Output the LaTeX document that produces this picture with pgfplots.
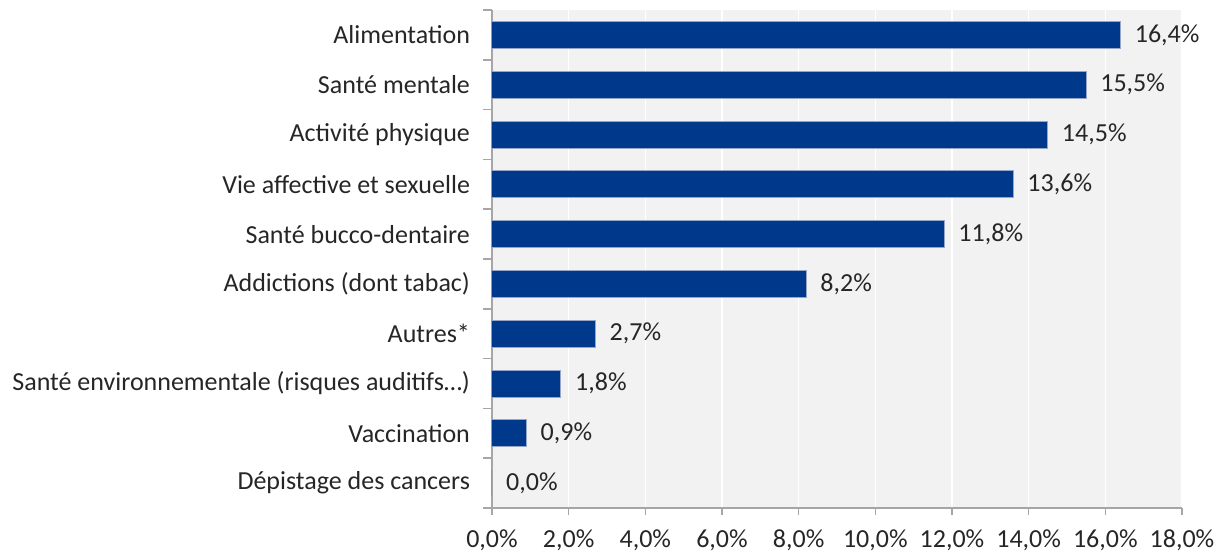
\documentclass[border=0pt]{standalone}
\usepackage{fontspec}
\setmainfont{Carlito}
\usepackage{pgfplots}
\pgfplotsset{compat=1.18}
\definecolor{barblue}{HTML}{00388C}
\definecolor{bgray}{HTML}{F2F2F2}
\definecolor{axgray}{HTML}{A6A6A6}
\definecolor{txt}{HTML}{262626}
\begin{document}
\begin{tikzpicture}[font=\fontsize{13}{15}\selectfont]
\begin{axis}[
  scale only axis, width=345pt, height=249pt,
  at={(0,0)}, anchor=south west,
  xbar, bar width=13.5pt,
  xmin=0, xmax=18, ymin=-0.5, ymax=9.5,
  axis background/.style={fill=bgray},
  axis lines*=left,
  axis line style={axgray, line width=0.8pt},
  xmajorgrids, grid style={white, line width=0.8pt},
  /pgf/number format/assume math mode=true,
  xtick={0,2,...,18},
  xticklabel={\pgfmathprintnumber[fixed,fixed zerofill,precision=1,use comma]{\tick}\%},
  ytick={0,...,9},
  yticklabels={D\'epistage des cancers, Vaccination, Sant\'e environnementale (risques auditifs…), Autres*, Addictions (dont tabac), Sant\'e bucco-dentaire, Vie affective et sexuelle, Activit\'e physique, Sant\'e mentale, Alimentation},
  major y tick style={draw=none},
  minor ytick={-0.5,0.5,...,9.5},
  tick align=outside,
  minor tick length=4.5pt, major tick length=3.5pt,
  tick style={axgray, line width=0.8pt},
  ticklabel style={text=txt},
  y tick label style={xshift=-4pt},
  x tick label style={yshift=-4pt},
  nodes near coords={\pgfmathprintnumber[fixed,fixed zerofill,precision=1,use comma]{\pgfplotspointmeta}\%},
  nodes near coords style={anchor=west, xshift=3.5pt, text=txt},
  point meta=x,
]
\addplot[fill=barblue, draw={rgb,255:red,150;green,165;blue,200}, line width=0.5pt] coordinates {
  (0.0,0) (0.9,1) (1.8,2) (2.7,3) (8.2,4) (11.8,5) (13.6,6) (14.5,7) (15.5,8) (16.4,9)
};
\end{axis}
\pgfresetboundingbox
\path (-246pt,-22.5pt) rectangle (365.5pt,254pt);
\end{tikzpicture}
\end{document}
